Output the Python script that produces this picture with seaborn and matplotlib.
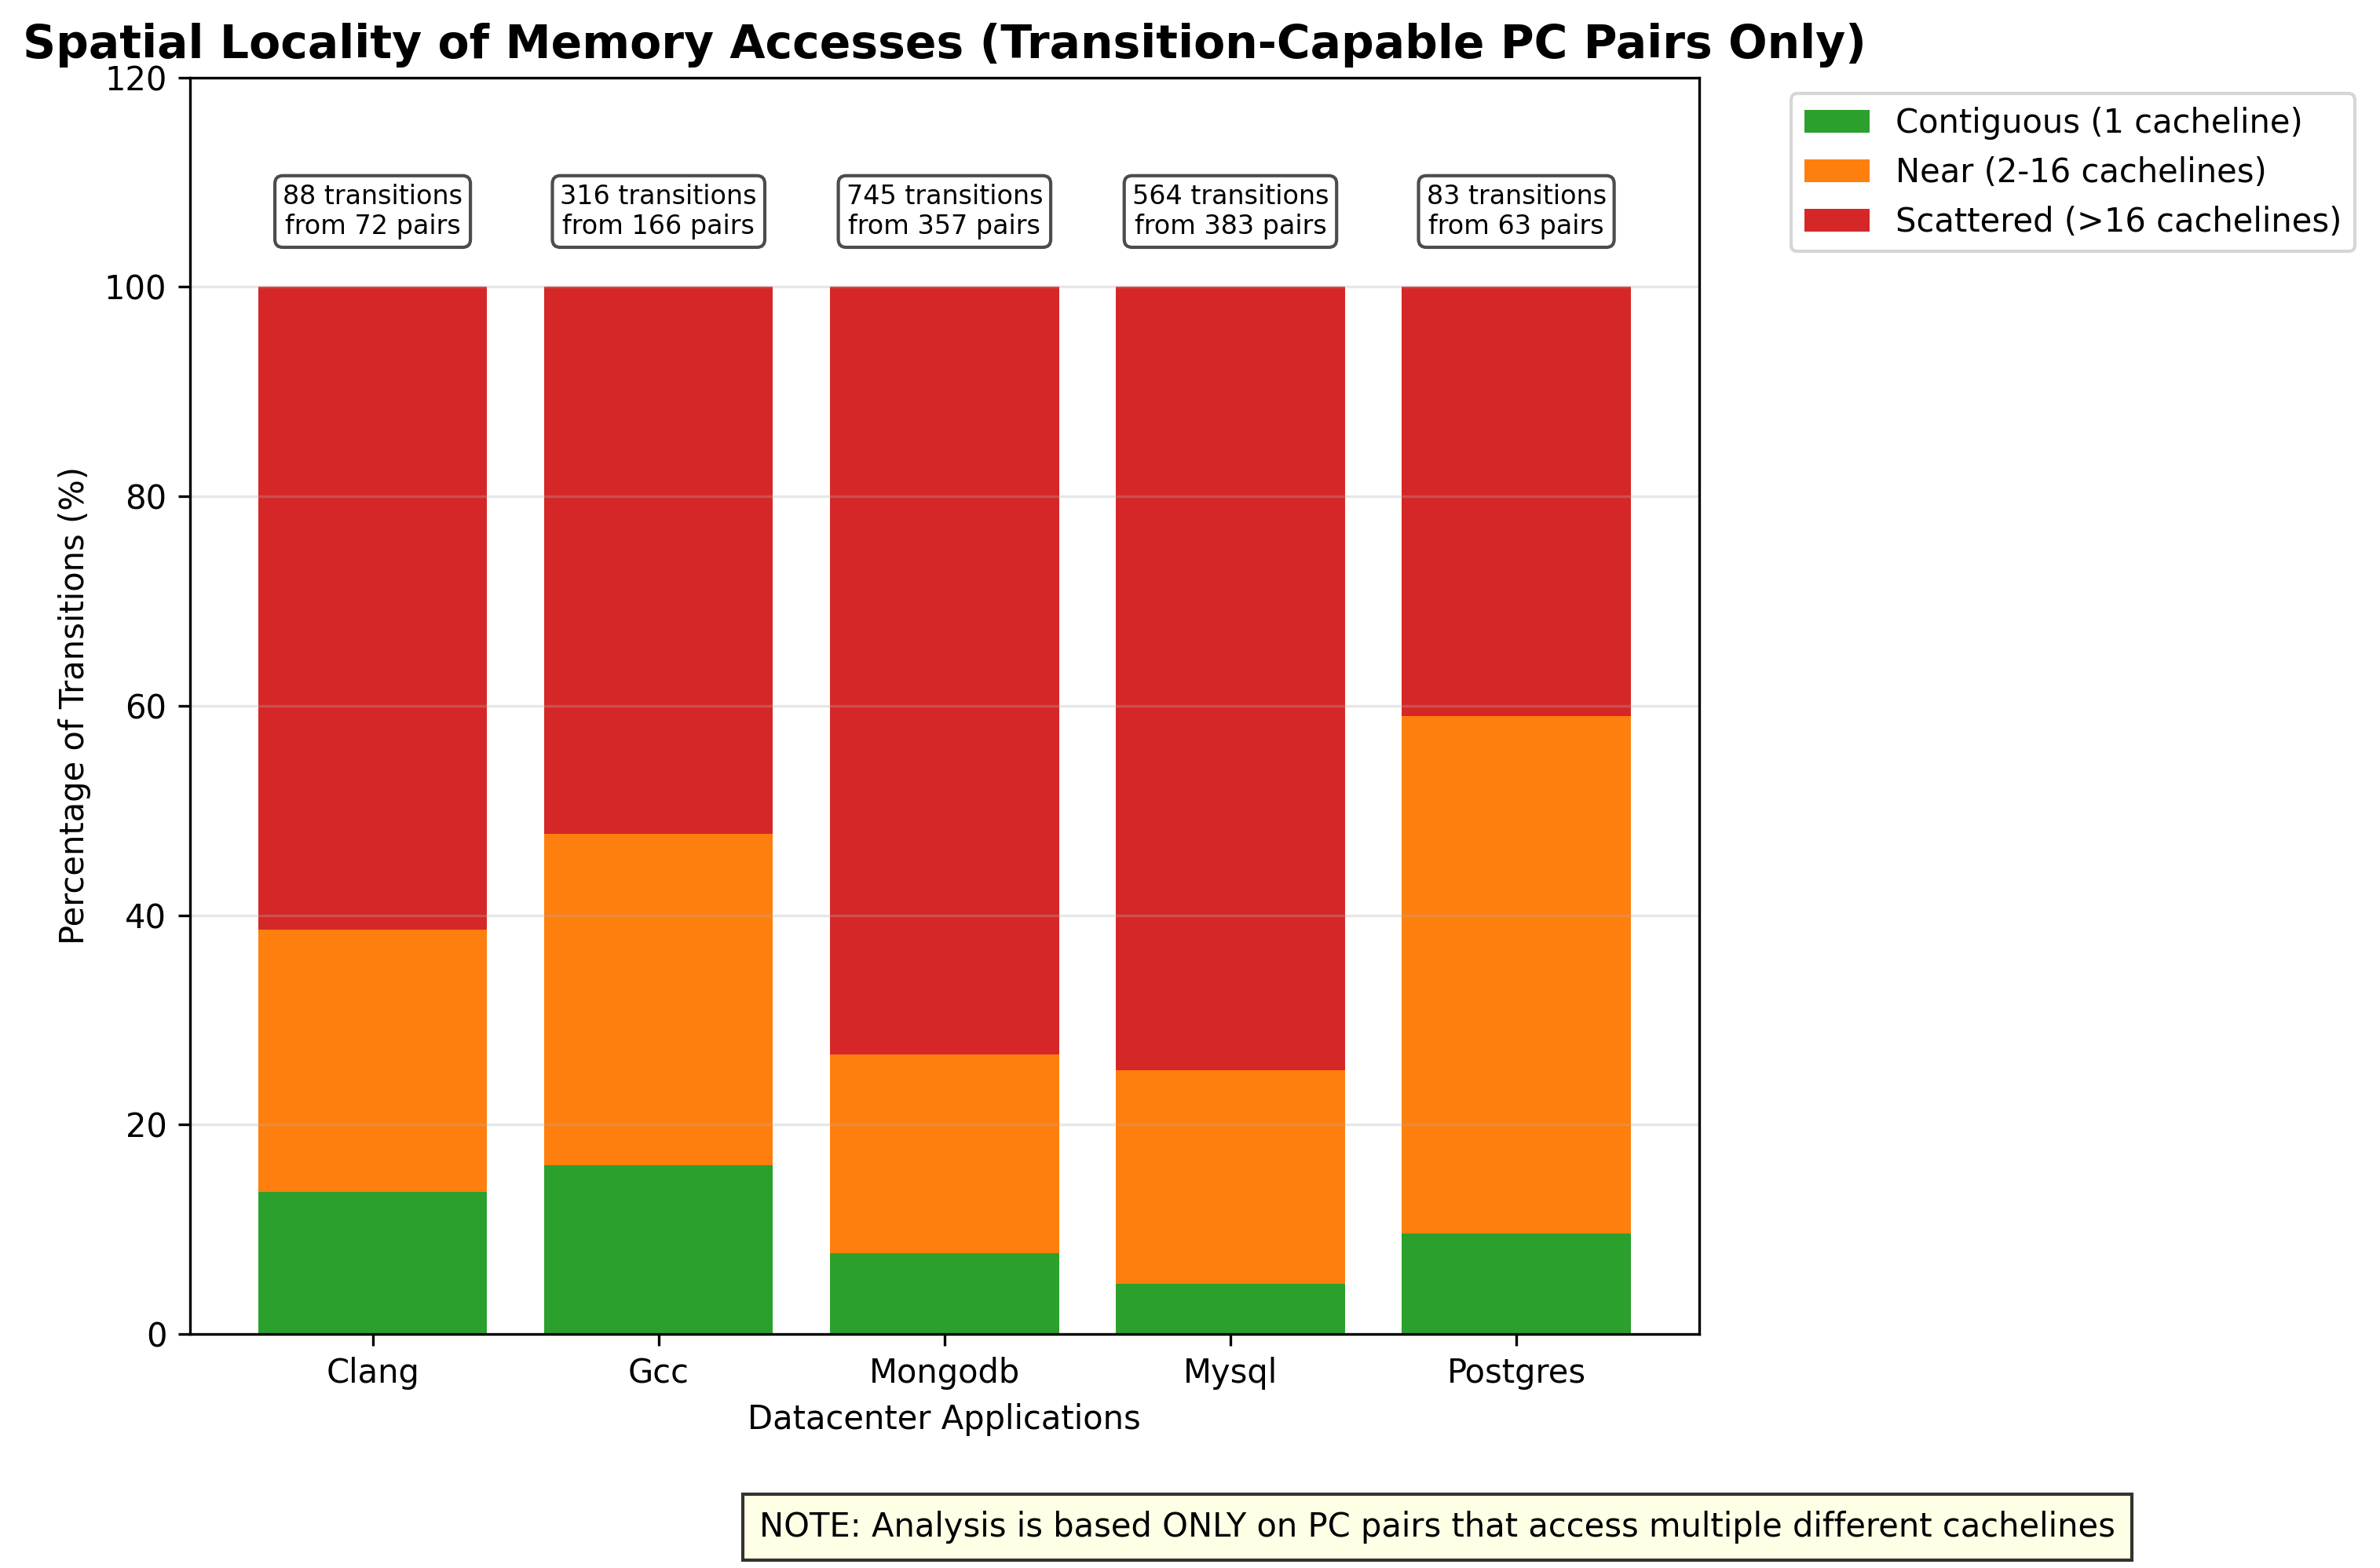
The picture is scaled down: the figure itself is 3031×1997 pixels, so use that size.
import matplotlib
matplotlib.use("Agg")
import matplotlib.pyplot as plt
import seaborn as sns
import numpy as np
import pandas as pd

apps = ["Clang", "Gcc", "Mongodb", "Mysql", "Postgres"]
contiguous = [13.6, 16.1, 7.7, 4.8, 9.6]
near = [25.0, 31.7, 19.0, 20.4, 49.4]
scattered = [61.4, 52.2, 73.3, 74.8, 41.0]
transitions = [88, 316, 745, 564, 83]
pairs = [72, 166, 357, 383, 63]

labels = ["Contiguous (1 cacheline)", "Near (2-16 cachelines)", "Scattered (>16 cachelines)"]
colors = ["#2ca02c", "#ff7f0e", "#d62728"]

df = pd.DataFrame({"app": apps, "c": contiguous, "n": near, "s": scattered})
df["cn"] = df["c"] + df["n"]
df["total"] = df["cn"] + df["s"]

fig = plt.figure(figsize=(3031 / 300, 1997 / 300), dpi=300)
ax = fig.add_axes([0.0797, 0.1492, 0.714 - 0.0797, 0.9506 - 0.1492])

sns.barplot(data=df, x="app", y="total", color=colors[2], saturation=1, width=0.8,
            linewidth=0, ax=ax, label=labels[2])
sns.barplot(data=df, x="app", y="cn", color=colors[1], saturation=1, width=0.8,
            linewidth=0, ax=ax, label=labels[1])
sns.barplot(data=df, x="app", y="c", color=colors[0], saturation=1, width=0.8,
            linewidth=0, ax=ax, label=labels[0])

ax.set_xlim(-0.64, 4.64)
ax.set_ylim(0, 120)
ax.set_yticks(np.arange(0, 121, 20))
ax.grid(axis="y", alpha=0.3)
ax.set_xlabel("Datacenter Applications", fontsize=10)
ax.set_ylabel("Percentage of Transitions (%)", fontsize=10)
ax.set_title("Spatial Locality of Memory Accesses (Transition-Capable PC Pairs Only)",
             fontsize=14, fontweight="bold")

for i, (t, p) in enumerate(zip(transitions, pairs)):
    ax.text(i, 107.2, f"{t} transitions\nfrom {p} pairs", ha="center", va="center",
            fontsize=8, bbox=dict(boxstyle="round,pad=0.3", facecolor="white", alpha=0.7))

handles, labs = ax.get_legend_handles_labels()
order = [labs.index(l) for l in labels]
ax.legend([handles[k] for k in order], [labs[k] for k in order],
          bbox_to_anchor=(1.05, 1), loc="upper left", fontsize=10)

fig.text(0.604, 0.026, "NOTE: Analysis is based ONLY on PC pairs that access multiple different cachelines",
         ha="center", va="center", fontsize=10,
         bbox=dict(boxstyle="square,pad=0.5", facecolor="lightyellow", alpha=0.8))

fig.savefig("out.png", dpi=300)
